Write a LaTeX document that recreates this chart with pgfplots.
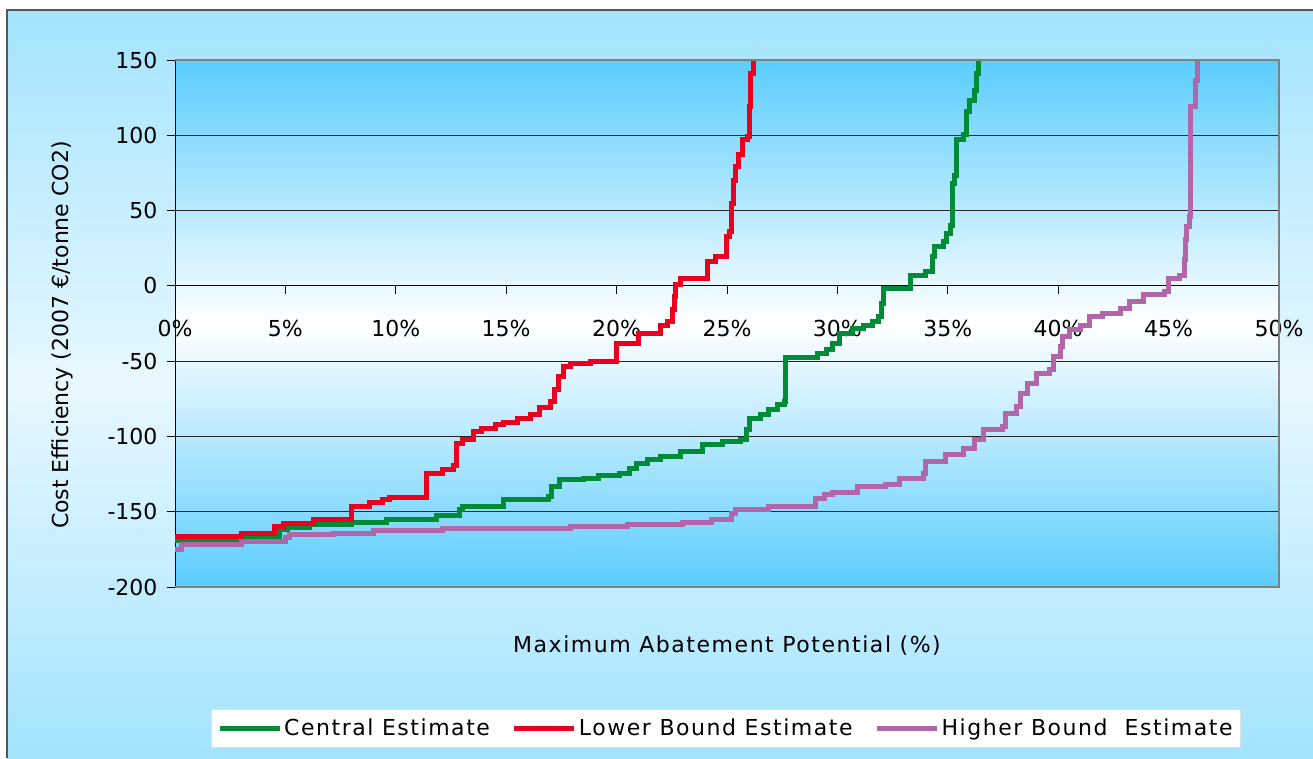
\documentclass[border=0pt]{standalone}
\usepackage{pgfplots}
\pgfplotsset{compat=1.18}
\usepackage{fontspec}
\setmainfont{DejaVu Sans}
\newfontfamily\spaced{DejaVu Sans}[LetterSpace=7]
\definecolor{deepblue}{HTML}{5ACDFE}
\definecolor{outerA}{HTML}{A3E4FF}
\definecolor{outerM}{HTML}{E8F8FF}
\definecolor{framegray}{HTML}{555555}
\definecolor{cgreen}{HTML}{008C36}
\definecolor{cred}{HTML}{E8001E}
\definecolor{cpurple}{HTML}{B066A8}
\begin{document}
\begin{tikzpicture}[x=1pt,y=1pt]
\useasboundingbox (0,0) rectangle (1313,758);
\fill[white] (0,0) rectangle (1313,758);
\shade[top color=outerA, bottom color=outerA, middle color=outerM] (7,0) rectangle (1313,748);
\draw[line width=1.5pt, framegray] (7,0) -- (7,748) -- (1313,748);
\begin{axis}[
  at={(175pt,171pt)}, anchor=south west,
  scale only axis, width=1104pt, height=527pt,
  xmin=0, xmax=50, ymin=-200, ymax=150,
  axis x line=middle, axis y line=left, axis line style={-, black, line width=1pt},
  hide obscured x ticks=false,
  axis background/.style={top color=deepblue, bottom color=deepblue, middle color=white},
  xtick={0,5,...,50}, ytick={-200,-150,...,150},
  xticklabel={\pgfmathprintnumber{\tick}\%},
  ymajorgrids, grid style={black!85, line width=0.9pt},
  tick style={black, line width=0.9pt}, major tick length=8pt,
  tick align=outside,
  ticklabel style={font=\fontsize{22}{26}\selectfont},
  /pgf/number format/assume math mode=true,
  xticklabel style={yshift=-23pt},
  yticklabel style={xshift=-6pt},
  xlabel={Maximum Abatement Potential (\%)},
  ylabel={Cost Efficiency (2007 €/tonne CO2)},
  every axis x label/.style={at={(axis description cs:0.5,-0.112)}, anchor=center, font=\spaced\fontsize{22}{26}\selectfont},
  every axis y label/.style={at={(axis description cs:-0.1024,0.478)}, anchor=center, rotate=90, font=\fontsize{22}{26}\selectfont},
  legend columns=3,
  legend style={at={(axis description cs:0.499,-0.2676)}, anchor=center, fill=white, draw=black!12,
    font=\spaced\fontsize{22}{26}\selectfont, inner xsep=6pt, inner ysep=8pt,
    /tikz/every even column/.append style={column sep=20pt}},
  legend image code/.code={\draw[#1] (0pt,0pt) -- (60pt,0pt);},
  after end axis/.code={\draw[gray, line width=1.5pt] (rel axis cs:0,1) -- (rel axis cs:1,1) -- (rel axis cs:1,0) -- (rel axis cs:0,0);},
]
\addplot[const plot, color=cgreen, line width=5pt] coordinates {
(0,-169) (3.0,-166.5) (4.75,-162) (5.1,-160.5) (6.1,-158.8) (8.0,-157.2) (9.6,-155)
(11.85,-152.8) (12.9,-148.8) (13.0,-146.6) (14.9,-142.2) (16.9,-140) (17.05,-133.3)
(17.4,-128.9) (18.5,-127.8) (19.2,-126.2) (20.15,-124.5) (20.6,-121.1) (20.9,-117.8)
(21.4,-115.6) (22.0,-113) (22.9,-110) (23.9,-105.6) (24.8,-103.4) (25.6,-102.3)
(25.9,-95.7) (26.0,-87.9) (26.5,-85.7) (26.9,-82.4) (27.3,-79) (27.6,-76.9)
(27.65,-47.5) (29.1,-44.8) (29.5,-42.1) (29.8,-38.1) (30.1,-31.5) (30.7,-28.2)
(31.2,-26) (31.6,-23.8) (31.85,-20.4) (32.0,-11.6) (32.1,-1.6) (33.3,7.2) (34.0,9.6)
(34.3,19.4) (34.4,26) (34.8,29.3) (34.95,35) (35.1,40.4) (35.2,68) (35.3,73.6)
(35.4,96.9) (35.7,100.2) (35.85,115.7) (36.0,123.4) (36.2,130) (36.3,141) (36.4,152)
};
\addlegendentry{Central Estimate}
\addplot[const plot, color=cred, line width=5pt] coordinates {
(0,-166.5) (3.0,-164.3) (4.5,-160) (4.9,-157.7) (6.25,-155.4) (8.0,-146.6) (8.8,-144)
(9.4,-142) (9.7,-140.6) (11.4,-124.5) (12.1,-122) (12.6,-119) (12.75,-104.4) (13.0,-102)
(13.5,-96.8) (13.9,-94.5) (14.5,-92.4) (14.9,-90.8) (15.5,-87.8) (16.1,-85.7) (16.5,-81)
(17.0,-76.9) (17.2,-69) (17.35,-60.3) (17.6,-53.6) (17.9,-51.4) (18.8,-50.3) (20.0,-38.1)
(21.0,-31.5) (22.0,-26) (22.3,-23.8) (22.55,-16) (22.6,-7) (22.65,0.6) (22.9,5)
(24.1,16) (24.5,19.4) (25.0,32.7) (25.1,36) (25.2,54.8) (25.3,70.3) (25.4,79) (25.5,87)
(25.7,96.9) (25.95,99) (26.0,119) (26.05,141) (26.2,152)
};
\addlegendentry{Lower Bound Estimate}
\addplot[const plot, color=cpurple, line width=5pt] coordinates {
(0,-175) (0.3,-171.6) (3.0,-169.9) (5.0,-167.2) (5.2,-165.4) (7.2,-164.3) (9.0,-162.8)
(12.1,-161) (17.9,-159.5) (20.5,-158.5) (23.0,-157.3) (24.3,-155.4) (25.2,-151.5)
(25.4,-148.5) (26.9,-146.6) (29.0,-141) (29.4,-138.8) (29.8,-137) (30.9,-133.3)
(32.2,-132.2) (32.8,-127.8) (33.9,-124.5) (34.0,-116.7) (34.9,-112.3) (35.7,-107.8)
(36.2,-102.3) (36.6,-95.7) (37.5,-93.5) (37.6,-84.6) (38.1,-80.2) (38.3,-71.3)
(38.6,-64.7) (39.0,-58) (39.6,-55.8) (39.8,-47) (40.1,-40.4) (40.2,-33.7) (40.5,-29.3)
(41.0,-26) (41.4,-20.4) (42.0,-18.2) (42.8,-14.9) (43.25,-10.5) (43.85,-6) (44.8,-3.8)
(45.0,5) (45.5,7.2) (45.7,17.2) (45.75,30.5) (45.8,39.3) (45.95,46) (46.0,119)
(46.2,136.7) (46.3,152)
};
\addlegendentry{Higher Bound\ \ Estimate}
\end{axis}
\end{tikzpicture}
\end{document}
